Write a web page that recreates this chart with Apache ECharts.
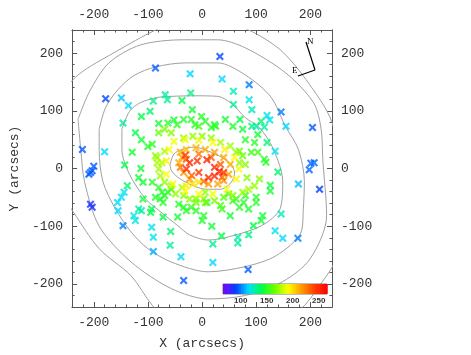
<!DOCTYPE html>
<html><head><meta charset="utf-8">
<script src="https://cdn.jsdelivr.net/npm/echarts@6/dist/echarts.min.js"></script>
<style>html,body{margin:0;padding:0;background:#fff}#c{width:471px;height:355px}</style>
</head><body><div id="c"></div>
<script>
// Tick values
const majorTicks = [-200, -100, 0, 100, 200];
const minorTicks = [-240,-220,-200,-180,-160,-140,-120,-100,-80,-60,-40,-20,0,20,40,60,80,100,120,140,160,180,200,220,240];
const colorbarTicks = [100, 150, 200, 250];
const colorbarLevels = [68.5,73.5,78.5,83.5,88.5,93.5,98.5,103.5,108.5,113.5,118.5,123.5,128.5,133.5,138.5,143.5,148.5,153.5,158.5,163.5,168.5,173.5,178.5,183.5,188.5,193.5,198.5,203.5,208.5,213.5,218.5,223.5,228.5,233.5,238.5,243.5,248.5,253.5,258.5,263.5];
const colorStops = ['#8000ff','#0040ff','#00e0ff','#00ff40','#70ff00','#ffff00','#ffa000','#ff4000','#ff0000'];

// Contours (arcsec coordinates)
const contour1 = [[-59,7],[-52,25],[-37,33],[-14,37],[12,30],[37,19],[54,7],[60,-8],[53,-25],[34,-36],[8,-36],[-23,-27],[-45,-15],[-57,-3],[-59,7]];
const contour2 = [[-148,68],[-134,99],[-114,114],[-83,123],[-57,125],[-14,126],[29,125],[54,113],[80,88],[106,71],[132,33],[149,-23],[144,-70],[110,-99],[51,-118],[11,-124],[-23,-115],[-45,-99],[-74,-77],[-104,-53],[-134,-10],[-148,33],[-148,68]];
const contour3 = [[-190,68],[-178,106],[-155,137],[-126,161],[-86,176],[-31,183],[29,183],[80,162],[127,124],[154,73],[178,33],[189,-23],[187,-70],[183,-110],[137,-151],[80,-170],[11,-179],[-57,-162],[-100,-139],[-131,-110],[-160,-70],[-183,-23],[-190,33],[-190,68]];
const contour4 = [[-229,85],[-208,133],[-172,183],[-114,214],[-35,223],[29,223],[80,209],[154,166],[206,114],[220,68],[223,16],[230,-82],[200,-156],[149,-196],[80,-220],[11,-226],[-57,-208],[-131,-162],[-190,-100],[-217,-23],[-224,33],[-229,85]];
const contour5 = [[-272,33],[-264,119],[-229,162],[-160,202],[-86,240],[-6,271],[86,240],[144,206],[192,154],[240,80],[261,-36],[247,-156],[213,-208],[184,-242],[115,-285],[11,-303],[-49,-277],[-92,-237],[-131,-186],[-190,-139],[-238,-75],[-264,-36],[-272,33]];

// Points: [x, y, value]
const outerPoints = [[-86,174,95],[-22,164,115],[-178,121,92],[-149,122,112],[-136,109,115],[33,194,92],[37,155,115],[58,134,125],[87,145,100],[87,119,118],[92,102,125],[58,111,130],[146,98,100],[120,92,118],[125,84,118],[92,73,132],[100,73,128],[115,72,128],[155,73,115],[204,71,95],
[-68,128,128],[-64,119,130],[-90,117,132],[-21,131,132],[-96,99,135],[-146,79,128],
[201,9,97],[207,10,97],[198,-2,97],[217,-36,90],[178,-27,110],[140,-6,135],[146,-79,125],[135,-108,118],[149,-121,115],[177,-121,100],[86,-115,132],[66,-119,128],[66,-129,128],[20,-131,130],[20,-163,115],[85,-175,95],[135,30,118],
[-221,33,95],[-206,-7,95],[-200,4,95],[-209,-10,95],[-203,-4,95],[-206,-62,85],[-203,-67,85],[-180,29,115],[-138,-30,135],[-144,-41,118],[-149,-50,118],[-156,-59,115],[-155,-73,115],[-146,-99,102],[-126,-82,120],[-123,-90,120],[-117,-70,128],[-112,-73,128],[-93,-102,118],[-90,-119,118],[-58,-109,135],[-59,-133,128],[-90,-144,108],[-39,-153,115],[-34,-194,95],[109,82,135],[120,45,135]];
const greenPoints = [[43,85,145],[70,85,140],[25,73,150],[17,71,150],[-37,118,140],[-18,102,145],[-112,90,140],[-80,78,145],[-52,84,145],[-1,90,150],[-13,76,150],[23,76,150],
[126,-29,145],[126,-39,145],[112,-82,145],[109,-90,145],[95,-99,140],[52,-82,145],[36,-117,140],[18,-100,145],[115,16,150],[118,11,150],[103,28,155],[91,28,155],
[100,-50,150],[100,-59,150],[80,-47,150],[77,-59,150],[86,-70,148],[69,-67,150],[63,-53,150],[40,-50,160],[34,-64,158],[37,-70,155],[9,-59,150],[3,-82,150],[0,-90,148],[49,-44,160],[57,-56,155],
[-143,6,140],[-129,28,145],[-113,0,145],[-117,-16,145],[-109,-24,145],[-109,-53,145],[-93,-70,140],[-95,-76,140],[-72,-84,140],[-45,-84,145],[-92,-24,150],[-80,-33,150],[-74,-41,150],[-69,-47,150],[-63,-41,152],[-57,-36,155],[-86,-50,148],[-77,-53,148],[-72,-59,150],[-43,-62,150],[-34,-67,150],[-29,-73,150],[-20,-67,152],[-11,-73,150],
[-112,50,145],[-100,38,148],[-123,62,140],[-92,42,150],
[-63,79,150],[-46,76,152],[-34,85,150],[-20,85,150],[-6,73,155],[6,82,150],[57,73,148],[75,68,145],[103,59,145],[80,50,150],[97,45,150]];
const ringPoints = [[83,-16,170],[80,7,170],[69,10,170],[75,22,165],[69,30,165],
[-49,-44,172],[-37,-33,175],[-11,-53,168],[3,-53,168],[6,-41,172],[-83,19,175],[-74,10,178],[-69,30,175],
[-80,62,165],[-69,68,168],[-57,62,170],[-34,53,172],[-17,56,172],[0,56,170],[17,53,172],[34,45,175],[52,39,175],[63,28,172],
[-86,22,172],[-83,10,175],[-80,-1,175],[-77,-13,175],[-69,-24,172],[-57,-30,175],[-34,-47,170],[-23,-53,170],[-11,-59,165],[6,-59,165],[23,-56,168],[57,-47,170],[75,-41,172],[86,-36,175],[97,-30,172],[106,-18,170]];
const corePoints = [[-61,33,192],[-52,47,188],[-31,50,190],[-6,49,188],[20,45,192],[42,33,195],[60,19,192],[68,-1,190],[63,-18,192],[46,-36,190],[20,-44,188],[-6,-44,190],[-31,-39,192],[-54,-27,190],[-66,-10,192],[-66,13,195],[-29,-30,195],[-17,-27,198],[-6,-24,200],
[-40,28,212],[-29,33,208],[-11,36,210],[6,33,212],[23,28,215],[40,19,215],[52,7,212],[49,-10,215],[40,-21,218],[29,-27,215],[12,-27,218],[-23,-18,215],[-34,-7,218],[-43,10,212],[-37,19,215],
[-29,16,232],[-6,25,228],[17,19,232],[34,7,235],[37,-15,232],[3,-22,230],[-19,-12,232],[-40,2,228],
[-23,10,250],[-9,13,248],[9,15,252],[-29,-1,250],[23,2,250],[32,-5,255],[40,-7,248],[23,-13,252],[12,-16,250],[-6,-7,245],[-31,23,245]];

const chart = echarts.init(document.getElementById('c'), null, {renderer: 'canvas'});
const AX = '#555';
const FONT = 'Liberation Mono';
function axis(kind, pos, major, extra) {
  const a = {
    type: 'value', gridIndex: 0, position: pos, min: -240, max: 240,
    axisLine: {show: true, onZero: false, lineStyle: {color: AX, width: 1}},
    axisTick: {show: true, inside: true, length: major ? 5 : 2.5, customValues: major ? majorTicks : minorTicks, lineStyle: {color: AX, width: 1}},
    axisLabel: major ? {show: true, customValues: majorTicks, fontFamily: FONT, fontSize: 13, color: '#333', margin: 9} : {show: false},
    splitLine: {show: false}
  };
  return Object.assign(a, extra || {});
}
const xAxes = [
  axis('x', 'bottom', true, {name: 'X (arcsecs)', nameLocation: 'middle', nameGap: 30, nameTextStyle: {fontFamily: FONT, fontSize: 13, color: '#333'}}),
  axis('x', 'bottom', false),
  axis('x', 'top', true),
  axis('x', 'top', false),
  {type: 'value', gridIndex: 1, position: 'bottom', min: 66, max: 266,
   axisLine: {show: false, onZero: false}, axisTick: {show: false}, splitLine: {show: false},
   axisLabel: {show: true, customValues: colorbarTicks, fontFamily: 'Liberation Sans', fontWeight: 'bold', fontSize: 8, color: '#333', margin: 3}}
];
const yAxes = [
  axis('y', 'left', true, {name: 'Y (arcsecs)', nameLocation: 'middle', nameGap: 48, nameTextStyle: {fontFamily: FONT, fontSize: 13, color: '#333'}}),
  axis('y', 'left', false),
  axis('y', 'right', true),
  axis('y', 'right', false),
  {type: 'value', gridIndex: 1, min: 0, max: 1, show: false}
];
function contour(d) {
  return {type: 'line', xAxisIndex: 0, yAxisIndex: 0, data: d, symbol: 'none', smooth: 0.3, silent: true,
    lineStyle: {color: '#a0a0a0', width: 1}, z: 1, clip: true};
}
const allPoints = outerPoints.concat(greenPoints, ringPoints, corePoints);
const option = {
  animation: false,
  backgroundColor: '#fff',
  grid: [
    {left: 54, top: 30, width: 278, height: 278, containLabel: false},
    {left: 223, top: 284, width: 104, height: 10, show: true, borderColor: '#777', borderWidth: 1, backgroundColor: '#fff', z: 10}
  ],
  xAxis: xAxes,
  yAxis: yAxes,
  visualMap: [
    {type: 'continuous', show: false, min: 66, max: 266, dimension: 2, seriesIndex: 5, inRange: {color: colorStops}},
    {type: 'continuous', show: false, min: 66, max: 266, dimension: 0, seriesIndex: 6, inRange: {color: colorStops}}
  ],
  series: [
    contour(contour1), contour(contour2), contour(contour3), contour(contour4), contour(contour5),
    {type: 'scatter', xAxisIndex: 0, yAxisIndex: 0, data: allPoints, symbolSize: 8, z: 3,
     symbol: 'path://M0,1.9L1.9,0L5,3.1L8.1,0L10,1.9L6.9,5L10,8.1L8.1,10L5,6.9L1.9,10L0,8.1L3.1,5Z'},
    {type: 'custom', xAxisIndex: 4, yAxisIndex: 4, z: 12, data: colorbarLevels.map(v => [v, 0.5]),
     encode: {x: 0, y: 1},
     renderItem: function (params, api) {
       const v = api.value(0);
       const p0 = api.coord([v - 2.5, 1]);
       const p1 = api.coord([v + 2.5, 0]);
       return {type: 'rect', shape: {x: p0[0], y: p0[1], width: p1[0] - p0[0] + 0.6, height: p1[1] - p0[1]},
               style: {fill: api.visual('color')}};
     }}
  ],
  graphic: [
    {type: 'line', shape: {x1: 306, y1: 42, x2: 315, y2: 70}, style: {stroke: '#000', lineWidth: 1.2}, z: 20},
    {type: 'line', shape: {x1: 315, y1: 70, x2: 298, y2: 76}, style: {stroke: '#000', lineWidth: 1.2}, z: 20},
    {type: 'text', x: 307, y: 37, style: {text: 'N', font: '9px "Liberation Serif"', fill: '#000'}, z: 20},
    {type: 'text', x: 292, y: 66, style: {text: 'E', font: '9px "Liberation Serif"', fill: '#000'}, z: 20}
  ]
};
chart.setOption(option);
</script></body></html>
